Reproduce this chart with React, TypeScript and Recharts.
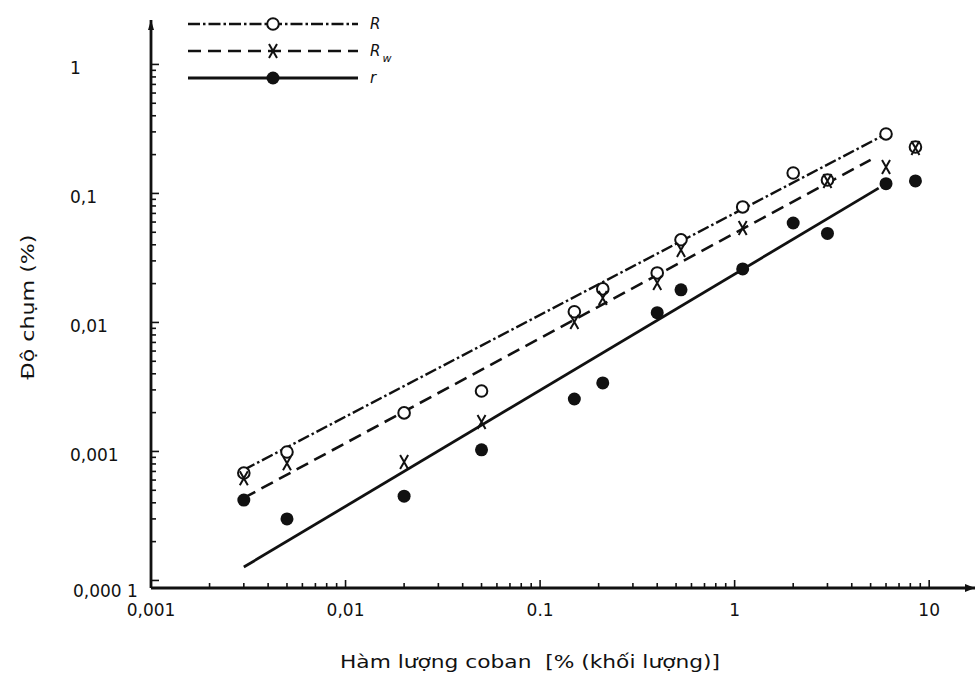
import React from 'react';
import { ComposedChart, Line, Scatter, XAxis, YAxis, Legend, ReferenceDot } from 'recharts';

// ---- data ----
const cobaltContent = [0.003, 0.005, 0.02, 0.05, 0.15, 0.21, 0.4, 0.53, 1.1, 2.0, 3.0, 6.0, 8.5];
const seriesR = [0.00068, 0.00099, 0.00199, 0.00294, 0.0121, 0.0182, 0.0242, 0.0437, 0.0786, 0.144, 0.127, 0.289, 0.229];
const seriesRw: (number | null)[] = [0.00062, 0.00081, 0.00083, 0.00169, 0.0101, 0.0155, 0.0202, 0.0365, 0.054, null, 0.125, 0.16, 0.225];
const seriesr = [0.00042, 0.0003, 0.00045, 0.00103, 0.00255, 0.0034, 0.0119, 0.0179, 0.026, 0.059, 0.049, 0.119, 0.125];

const fitRx = [0.003, 6.0];
const fitRy = [0.00072, 0.289];
const fitRwx = [0.003, 5.0];
const fitRwy = [0.000436, 0.182];
const fitrx = [0.003, 5.5];
const fitry = [0.000127, 0.11];

const xDecades = [0.001, 0.01, 0.1, 1, 10];
const xTickLabels = ['0,001', '0,01', '0.1', '1', '10'];
const yDecades = [0.0001, 0.001, 0.01, 0.1, 1];
const yTickLabels = ['0,000 1', '0,001', '0,01', '0,1', '1'];
const xDomain = [0.001, 17.2];
const yDomain = [0.0000874, 2.21];

const xTitle = 'Hàm lượng coban\u00a0\u00a0[% (khối lượng)]';
const yTitle = 'Độ chụm (%)';

// ---- derived tables ----
const toPoints = (xs: number[], ys: (number | null)[]) =>
  xs.map((x, i) => ({ x, y: ys[i] })).filter((p) => p.y !== null) as { x: number; y: number }[];

const ptsR = toPoints(cobaltContent, seriesR);
const ptsRw = toPoints(cobaltContent, seriesRw);
const ptsr = toPoints(cobaltContent, seriesr);
const lineR = toPoints(fitRx, fitRy);
const lineRw = toPoints(fitRwx, fitRwy);
const liner = toPoints(fitrx, fitry);

const minorTicks = (decades: number[]) => {
  const out: number[] = [];
  decades.forEach((d, i) => {
    if (i === decades.length - 1) {
      out.push(d);
    } else {
      for (let m = 1; m <= 9; m++) out.push(+(d * m).toPrecision(6));
    }
  });
  return out;
};
const xTicks = minorTicks(xDecades);
const yTicks = minorTicks(yDecades);

const INK = '#111';
const FONT = '"DejaVu Sans", "Liberation Sans", Arial, sans-serif';
const DASH_DOT = '12 3 2.5 3';
const DASHED = '13 7';

const decadeIndex = (arr: number[], v: number) => arr.findIndex((d) => Math.abs(d - v) / d < 1e-6);

const XTick = (props: any) => {
  const { x, y, payload } = props;
  const idx = decadeIndex(xDecades, payload.value);
  const isDec = idx >= 0;
  return (
    <g>
      <line x1={x} x2={x} y1={y} y2={y - (isDec ? 8 : 5)} stroke={INK} strokeWidth={1.6} />
      {isDec && (
        <text x={x} y={y + 28} textAnchor="middle" fontFamily={FONT} fontSize={17} fill={INK}>
          {xTickLabels[idx]}
        </text>
      )}
    </g>
  );
};

const YTick = (props: any) => {
  const { x, y, payload } = props;
  const idx = decadeIndex(yDecades, payload.value);
  const isDec = idx >= 0;
  const isCorner = idx === 0;
  return (
    <g>
      <line x1={x} x2={x + (isDec ? 8 : 5)} y1={y} y2={y} stroke={INK} strokeWidth={1.6} />
      {isDec && (
        <text x={isCorner ? 73 : 70} y={y + (isCorner ? 17 : 10)} textAnchor="start" fontFamily={FONT} fontSize={17} fill={INK}>
          {yTickLabels[idx]}
        </text>
      )}
    </g>
  );
};

const OpenCircle = (p: any) => (
  <circle cx={p.cx} cy={p.cy} r={5.8} fill="#fff" stroke={INK} strokeWidth={2} />
);
const Cross = (p: any) => (
  <path
    d={`M${p.cx - 4},${p.cy - 7}L${p.cx + 4},${p.cy + 7}M${p.cx + 4},${p.cy - 7}L${p.cx - 4},${p.cy + 7}`}
    stroke={INK}
    strokeWidth={2}
    fill="none"
  />
);
const FilledDot = (p: any) => <circle cx={p.cx} cy={p.cy} r={6.5} fill={INK} />;

const ArrowRight = (p: any) => (
  <path d={`M${p.cx - 10},${p.cy - 4}L${p.cx},${p.cy}L${p.cx - 10},${p.cy + 4}Z`} fill={INK} />
);
const ArrowUp = (p: any) => (
  <path d={`M${p.cx - 3},${p.cy + 10}L${p.cx},${p.cy}L${p.cx + 3},${p.cy + 10}Z`} fill={INK} />
);

const legendRows = [
  { label: 'R', sub: '', dash: DASH_DOT, marker: 'open', width: 2.4 },
  { label: 'R', sub: 'w', dash: DASHED, marker: 'cross', width: 2.6 },
  { label: 'r', sub: '', dash: '', marker: 'filled', width: 2.8 },
];

const LegendBox = () => (
  <svg width={230} height={90} style={{ overflow: 'visible' }}>
    {legendRows.map((row, i) => {
      const cy = 14 + i * 27;
      const cx = 93;
      return (
        <g key={i}>
          <line x1={8} x2={178} y1={cy} y2={cy} stroke={INK} strokeWidth={row.width} strokeDasharray={row.dash || undefined} />
          {row.marker === 'open' && <OpenCircle cx={cx} cy={cy} />}
          {row.marker === 'cross' && <Cross cx={cx} cy={cy} />}
          {row.marker === 'filled' && <FilledDot cx={cx} cy={cy} />}
          <text x={190} y={cy + 5} fontFamily={FONT} fontStyle="italic" fontSize={15} fill={INK}>
            {row.label}
            {row.sub && (
              <tspan dx={2} dy={6} fontSize={11}>
                {row.sub}
              </tspan>
            )}
          </text>
        </g>
      );
    })}
  </svg>
);

const XTitle = (props: any) => {
  const vb = props.viewBox;
  return (
    <text x={vb.x + vb.width / 2 - 33} y={668} textAnchor="middle" fontFamily={FONT} fontSize={18} fill={INK} textLength={380} lengthAdjust="spacingAndGlyphs">
      {xTitle}
    </text>
  );
};

const YTitle = () => (
  <text
    x={27}
    y={307}
    transform="rotate(-90 27 307)"
    textAnchor="middle"
    dominantBaseline="central"
    fontFamily={FONT}
    fontSize={18}
    fill={INK}
    textLength={145}
    lengthAdjust="spacingAndGlyphs"
  >
    {yTitle}
  </text>
);

export default function App() {
  return (
    <div style={{ position: 'absolute', left: 0, top: 0, width: 979, height: 676, background: '#fff' }}>
      <ComposedChart width={979} height={676} margin={{ top: 20, right: 4, left: 0, bottom: 0 }}>
        <XAxis
          dataKey="x"
          type="number"
          scale="log"
          domain={xDomain}
          allowDataOverflow
          ticks={xTicks}
          interval={0}
          tick={<XTick />}
          tickLine={false}
          tickSize={0}
          tickMargin={0}
          height={88}
          axisLine={{ stroke: INK, strokeWidth: 2.8 }}
          label={<XTitle />}
        />
        <YAxis
          dataKey="y"
          type="number"
          scale="log"
          domain={yDomain}
          allowDataOverflow
          ticks={yTicks}
          interval={0}
          tick={<YTick />}
          tickLine={false}
          tickSize={0}
          tickMargin={0}
          width={151}
          axisLine={{ stroke: INK, strokeWidth: 2.8 }}
          label={<YTitle />}
        />
        <Legend
          layout="vertical"
          align="center"
          verticalAlign="middle"
          wrapperStyle={{ left: 180, top: 10, width: 230, height: 90 }}
          content={<LegendBox />}
        />
        <Line data={lineR} dataKey="y" stroke={INK} strokeWidth={2.4} strokeDasharray={DASH_DOT} dot={false} isAnimationActive={false} legendType="none" />
        <Line data={lineRw} dataKey="y" stroke={INK} strokeWidth={2.6} strokeDasharray={DASHED} dot={false} isAnimationActive={false} legendType="none" />
        <Line data={liner} dataKey="y" stroke={INK} strokeWidth={2.8} dot={false} isAnimationActive={false} legendType="none" />
        <Scatter data={ptsR} shape={<OpenCircle />} isAnimationActive={false} legendType="none" />
        <Scatter data={ptsRw} shape={<Cross />} isAnimationActive={false} legendType="none" />
        <Scatter data={ptsr} shape={<FilledDot />} isAnimationActive={false} legendType="none" />
        <ReferenceDot x={xDomain[1]} y={yDomain[0]} ifOverflow="visible" shape={<ArrowRight />} />
        <ReferenceDot x={xDomain[0]} y={yDomain[1]} ifOverflow="visible" shape={<ArrowUp />} />
      </ComposedChart>
    </div>
  );
}
